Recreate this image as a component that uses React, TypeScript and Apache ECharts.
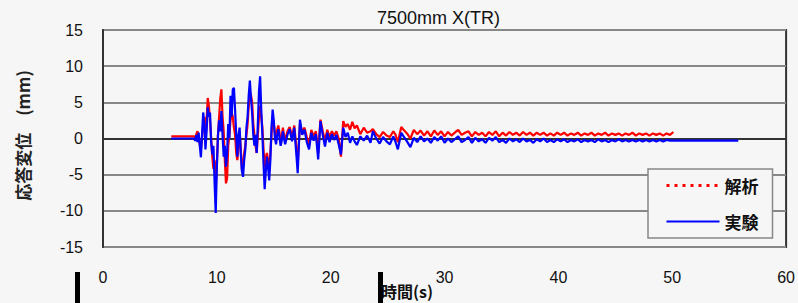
import React, { useEffect, useRef } from 'react';
import * as echarts from 'echarts';

const titleText = '7500mm X(TR)';
const yAxisName = '応答変位　(mm)';
const xAxisName = '時間(s)';
const seriesNames = ['解析', '実験'];

// time stamps (s)
const preTime = [6.0, 7.9];
const strongTime = [
  8.0, 8.1, 8.2, 8.3, 8.4, 8.5, 8.6, 8.7, 8.8, 8.9,
  9.0, 9.1, 9.2, 9.3, 9.4, 9.5, 9.6, 9.7, 9.8, 9.9,
  10.0, 10.1, 10.2, 10.3, 10.4, 10.5, 10.6, 10.7, 10.8, 10.9,
  11.0, 11.1, 11.2, 11.3, 11.4, 11.5, 11.6, 11.7, 11.8, 11.9,
  12.0, 12.1, 12.2, 12.3, 12.4, 12.5, 12.6, 12.7, 12.8, 12.9,
  13.0, 13.1, 13.2, 13.3, 13.4, 13.5, 13.6, 13.7, 13.8, 13.9,
  14.0, 14.1, 14.2, 14.3, 14.4, 14.5, 14.6, 14.7, 14.8, 14.9,
  15.0, 15.1, 15.2, 15.3, 15.4, 15.5, 15.6, 15.7, 15.8, 15.9,
  16.0,
];
const midTime = [
  16.2, 16.4, 16.6, 16.8, 17.0, 17.1, 17.3, 17.5, 17.7, 17.9,
  18.1, 18.3, 18.5, 18.7, 18.9, 19.1, 19.3, 19.5, 19.7, 19.9,
  20.1, 20.3, 20.5, 20.7, 20.9, 21.1, 21.3, 21.5, 21.7, 21.9,
  22.1,
];
const lateTime = [
  22.3, 22.6, 22.9, 23.2, 23.5, 23.7, 24.0, 24.3, 24.6, 24.9,
  25.2, 25.5, 25.7, 25.9, 26.2, 26.4, 26.7, 27.0, 27.3, 27.6,
  27.9, 28.2, 28.5, 28.8, 29.1, 29.4, 29.7, 30.0, 30.3, 30.6,
  30.9, 31.2, 31.5, 31.8, 32.1, 32.4, 32.7, 33.0, 33.3, 33.6,
  33.9, 34.2, 34.5, 34.8, 35.1, 35.4, 35.7, 36.0, 36.3, 36.6,
  36.9, 37.2, 37.5, 37.8, 38.1, 38.4, 38.7, 39.0, 39.3, 39.6,
  39.9, 40.2, 40.5, 40.8, 41.1, 41.4, 41.7, 42.0, 42.3, 42.6,
  42.9, 43.2, 43.5, 43.8, 44.1, 44.4, 44.7, 45.0, 45.3, 45.6,
  45.9, 46.2, 46.5, 46.8, 47.1, 47.4, 47.7, 48.0, 48.3, 48.6,
  48.9, 49.2, 49.5, 49.8,
];
const analysisEndTime = [50.1];
const experimentEndTime = [50.2, 55.8];

// 解析 (analysis) displacement, mm
const analysisPre = [0.3, 0.3];
const analysisStrong = [
  0.3, 0.0, 0.6, 1.0, 0.2, -0.8, -1.5, 0.2, 2.0, 3.0,
  -0.5, 2.5, 5.6, 4.5, 2.5, 0.0, -2.5, -4.2, -3.0, -7.0,
  -3.5, 0.5, 3.0, 5.5, 6.8, 3.0, 1.0, -3.0, -6.2, -5.5,
  -1.0, 0.5, 2.5, 3.6, 3.0, 1.5, 0.5, -2.0, -3.0, -1.0,
  1.0, -1.5, -4.3, -3.5, -2.0, -1.0, 0.5, 2.0, 4.5, 6.4,
  6.0, 5.0, 2.0, 0.5, -1.0, -2.0, 0.5, 3.0, 4.5, 3.0,
  1.5, -1.5, -4.0, -2.5, -2.0, -3.0, -4.5, -2.0, 0.5, 3.0,
  2.0, 0.8, 0.3, 1.2, 1.8, 0.8, -0.5, 0.3, 1.5, 0.5,
  -0.2,
];
const analysisMid = [
  1.0, 1.6, 0.2, 1.8, -1.5, -3.5, 2.0, 1.0, 1.5, 0.2,
  -0.8, 1.2, 0.3, 1.0, -2.0, 2.6, 1.0, -0.3, 1.2, 0.2,
  1.0, 0.4, 1.0, 0.0, -2.5, 2.4, 1.6, 2.0, 1.2, 2.3,
  1.4,
];
const analysisLate = [
  1.8, 0.6, 1.5, 0.8, 1.0, 1.3, 0.6, 0.2, 0.9, 0.4,
  0.2, 1.0, 0.5, -0.5, 1.6, 1.2, 0.7, 0.0, 1.2, 0.6,
  1.1, 0.4, 1.0, 0.3, 1.1, 0.5, 1.0, 0.3, 0.9, 0.4,
  0.8, 1.2, 0.5, 0.8, 1.0, 0.3, 0.9, 0.5, 0.8, 0.3,
  0.9, 0.5, 1.0, 0.3, 0.8, 0.4, 0.9, 0.5, 0.8, 0.4,
  0.9, 0.5, 0.8, 0.4, 0.8, 0.5, 0.8, 0.4, 0.7, 0.4,
  0.8, 0.5, 0.8, 0.4, 0.7, 0.5, 0.8, 0.4, 0.7, 0.5,
  0.8, 0.4, 0.7, 0.5, 0.8, 0.4, 0.7, 0.5, 0.7, 0.4,
  0.7, 0.5, 0.8, 0.4, 0.7, 0.5, 0.7, 0.4, 0.7, 0.5,
  0.7, 0.4, 0.7, 0.5,
];
const analysisEnd = [0.9];

// 実験 (experiment) displacement, mm
const experimentPre = [0, 0];
const experimentStrong = [
  0, -0.3, 0.5, -0.5, 0.8, -1.0, -2.6, 0.5, 3.6, 2.0,
  -1.5, 1.0, 4.3, 3.0, 3.6, -0.5, -2.2, -1.0, -6.0, -10.3,
  -4.0, 0.5, 2.5, 1.0, 3.8, 0.5, -2.5, -1.0, -3.9, -2.0,
  2.0, 0.0, 5.9, 3.0, 6.8, 7.0, 4.0, 0.5, -2.5, 0.5,
  1.5, -2.0, -4.5, -5.3, -3.0, -1.5, 1.5, 3.0, 6.0, 8.0,
  5.5, 3.5, 0.5, -1.0, 0.5, -2.0, 2.0, 6.5, 8.6, 4.0,
  0.5, -3.5, -7.0, -4.5, -2.5, -4.0, -5.8, -3.0, 1.5, 4.0,
  2.5, 0.0, -0.8, 0.5, 1.3, 0.2, -1.0, -0.3, 1.0, 0.0,
  -0.8,
];
const experimentMid = [
  0.5, 1.3, -0.4, 1.5, -2.5, -4.8, 2.6, 0.5, 1.2, -0.5,
  -1.5, 0.8, -0.3, 0.6, -2.9, 2.4, 0.5, -1.1, 0.8, -0.5,
  0.6, -0.2, 0.5, -0.8, -2.2, 1.5, 0.2, 0.8, -0.6, 0.3,
  -0.4,
];
const experimentLate = [
  -0.9, 0.3, -0.3, 0.4, -0.6, 1.0, 0.0, -0.7, 0.2, -0.4,
  -0.8, 0.3, -0.5, -1.5, 0.8, 0.3, -0.4, -1.2, 0.1, -0.5,
  0.3, -0.4, 0.0, -0.6, 0.2, -0.3, 0.3, -0.6, 0.0, -0.5,
  -0.1, 0.3, -0.5, -0.2, 0.2, -0.6, 0.1, -0.4, -0.1, -0.6,
  0.1, -0.3, 0.2, -0.5, -0.2, -0.6, 0.0, -0.4, -0.1, -0.5,
  0.0, -0.4, -0.2, -0.6, -0.1, -0.4, 0.0, -0.5, -0.2, -0.5,
  -0.1, -0.4, -0.1, -0.5, -0.2, -0.4, -0.1, -0.5, -0.2, -0.4,
  -0.2, -0.5, -0.1, -0.4, -0.2, -0.5, -0.2, -0.4, -0.1, -0.4,
  -0.2, -0.4, -0.2, -0.4, -0.2, -0.4, -0.2, -0.4, -0.2, -0.4,
  -0.2, -0.4, -0.2, -0.3,
];
const experimentEnd = [-0.3, -0.3];

const BG = '#f6f6f6';
const JP = '"Noto Sans CJK JP", sans-serif';
const NUM = '"Liberation Sans", Arial, sans-serif';

function zip(times: number[][], values: number[][]) {
  const out: number[][] = [];
  times.forEach((ts, k) => ts.forEach((t, i) => out.push([t, values[k][i]])));
  return out;
}

export default function App() {
  const ref = useRef<HTMLDivElement>(null);

  useEffect(() => {
    document.body.style.margin = '0';
    document.body.style.background = BG;
    if (!ref.current) return;
    const chart = echarts.init(ref.current, undefined, { renderer: 'svg' });

    const redData = zip(
      [preTime, strongTime, midTime, lateTime, analysisEndTime],
      [analysisPre, analysisStrong, analysisMid, analysisLate, analysisEnd]
    );
    const blueData = zip(
      [preTime, strongTime, midTime, lateTime, experimentEndTime],
      [experimentPre, experimentStrong, experimentMid, experimentLate, experimentEnd]
    );

    chart.setOption({
      animation: false,
      backgroundColor: BG,
      title: {
        text: titleText,
        left: 372,
        top: 4,
        textStyle: { fontSize: 18, fontWeight: 'normal', color: '#111', fontFamily: NUM },
      },
      grid: {
        left: 103,
        top: 30,
        right: 8,
        bottom: 56,
        show: true,
        borderColor: '#333',
        borderWidth: 2,
        backgroundColor: 'transparent',
      },
      legend: {
        orient: 'vertical',
        left: 648,
        top: 169,
        itemWidth: 53,
        itemHeight: 14,
        itemGap: 19,
        padding: [8, 14, 8, 17],
        borderColor: '#888',
        borderWidth: 1.5,
        backgroundColor: BG,
        itemStyle: { opacity: 0, borderWidth: 0 },
        textStyle: { fontSize: 17, fontWeight: 'bold', color: '#111', fontFamily: JP },
        data: [
          {
            name: seriesNames[0],
            itemStyle: { opacity: 0, borderWidth: 0 },
            lineStyle: { type: [3, 5], width: 3, color: '#ff0000' },
          },
          {
            name: seriesNames[1],
            itemStyle: { opacity: 0, borderWidth: 0 },
            lineStyle: { type: 'solid', width: 2, color: '#0000ff' },
          },
        ],
      },
      xAxis: {
        type: 'value',
        min: 0,
        max: 60,
        interval: 10,
        axisLine: { show: true, lineStyle: { color: '#333', width: 2 } },
        axisTick: { show: false },
        splitLine: { show: false },
        axisLabel: { margin: 22, fontSize: 16, color: '#111', fontFamily: NUM },
      },
      yAxis: {
        type: 'value',
        min: -15,
        max: 15,
        interval: 5,
        name: yAxisName,
        nameLocation: 'middle',
        nameGap: 72,
        nameTextStyle: { fontSize: 17, fontWeight: 'bold', color: '#222', fontFamily: JP, padding: [0, 0, 0, 6] },
        axisLine: { show: true, lineStyle: { color: '#333', width: 2 } },
        axisTick: { show: false },
        splitLine: { show: true, lineStyle: { color: '#888', width: 2 } },
        axisLabel: { margin: 20, fontSize: 16, color: '#111', fontFamily: NUM },
      },
      graphic: [
        {
          type: 'text',
          left: 381,
          top: 283,
          z: 10,
          style: { text: xAxisName, fontSize: 16, fontWeight: 'bold', fill: '#111', fontFamily: JP },
        },
        { type: 'rect', shape: { x: 75, y: 272, width: 5, height: 31 }, style: { fill: '#000' }, z: 20 },
        { type: 'rect', shape: { x: 378, y: 272, width: 5, height: 31 }, style: { fill: '#000' }, z: 20 },
      ],
      series: [
        {
          name: seriesNames[0],
          type: 'line',
          data: redData,
          showSymbol: false,
          symbol: 'none',
          lineStyle: { color: '#ff0000', width: 2.2 },
          itemStyle: { color: '#ff0000' },
          z: 2,
        },
        {
          name: seriesNames[1],
          type: 'line',
          data: blueData,
          showSymbol: false,
          symbol: 'none',
          lineStyle: { color: '#0000ff', width: 2.2 },
          itemStyle: { color: '#0000ff' },
          z: 3,
        },
      ],
    });

    return () => chart.dispose();
  }, []);

  return <div ref={ref} style={{ width: 798, height: 303 }} />;
}
